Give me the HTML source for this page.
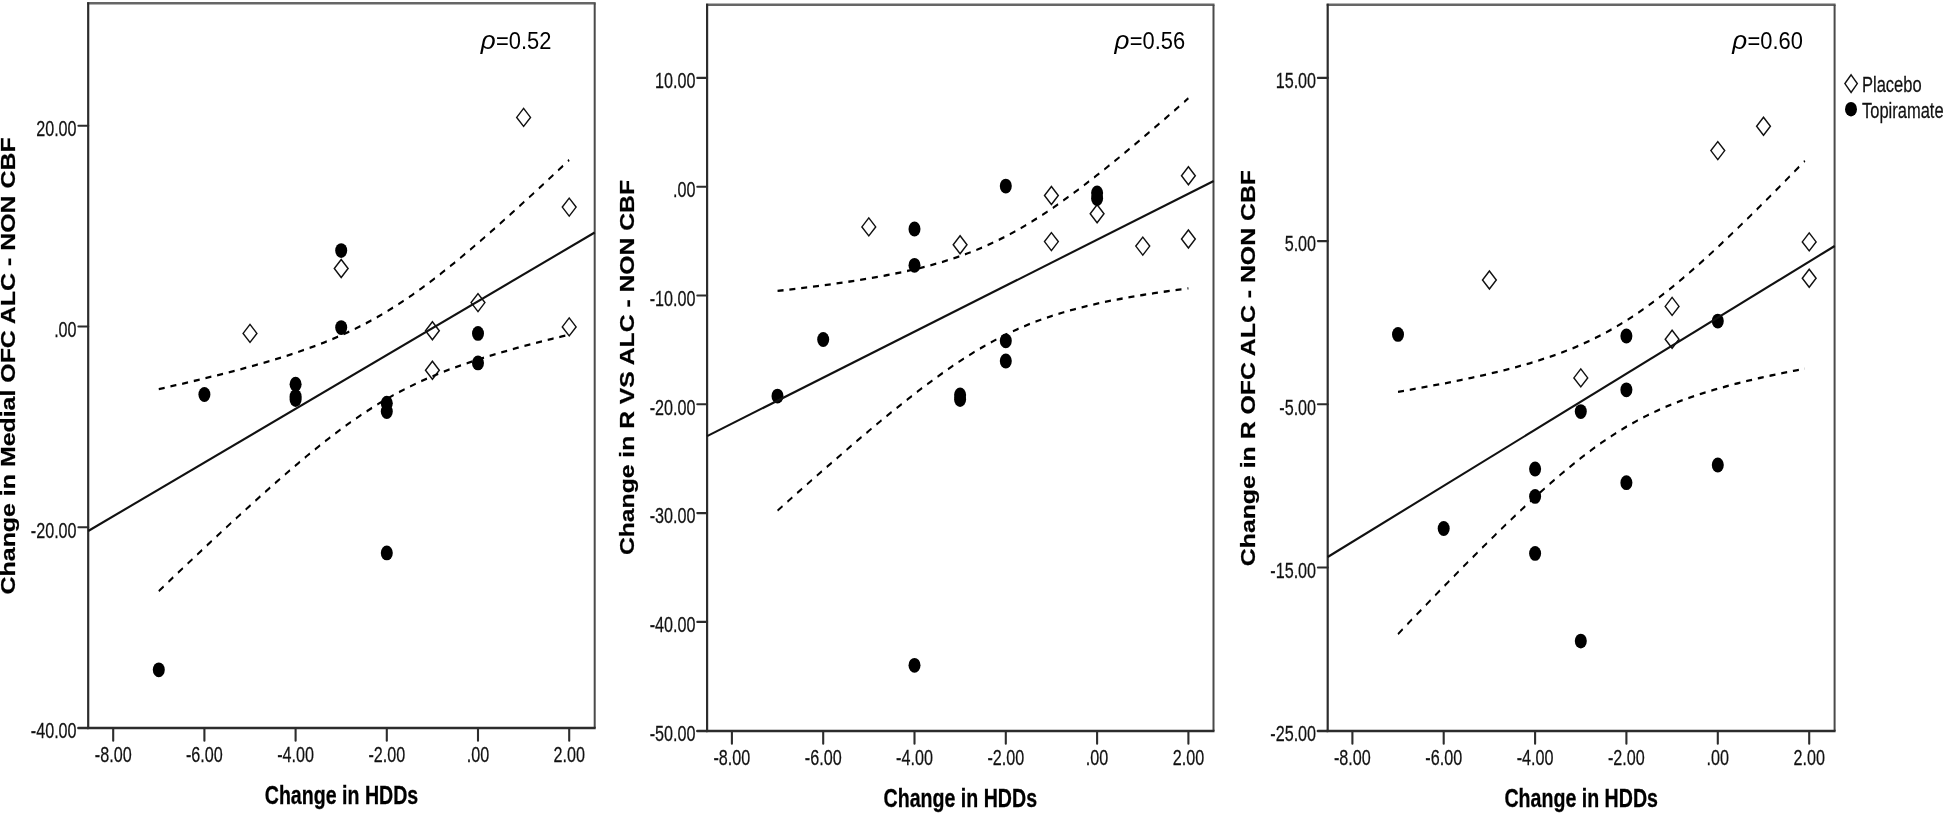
<!DOCTYPE html>
<html lang="en"><head><meta charset="utf-8"><title>Change in HDDs vs CBF</title>
<style>
html,body{margin:0;padding:0;background:#fff;}
body{width:1945px;height:813px;overflow:hidden;}
svg{display:block;filter:blur(0.45px);}
text{font-family:"Liberation Sans", Arial, sans-serif;fill:#111;}
.tk{font-size:22px;stroke:#111;stroke-width:0.25px;}
.xt{font-size:26.5px;font-weight:bold;fill:#000;stroke:#000;stroke-width:0.3px;}
.yt{font-size:27px;font-weight:bold;fill:#000;stroke:#000;stroke-width:0.3px;}
.rho{font-size:23.5px;fill:#000;}
.rhoi{font-size:26px;font-style:italic;fill:#000;}
.ax{stroke:#2c2c2c;stroke-width:2.2;fill:none;}
.tkl{stroke:#2c2c2c;stroke-width:2.1;fill:none;stroke-linecap:round;}
.frt{stroke:#666;stroke-width:2.4;fill:none;}
.frr{stroke:#4a4a4a;stroke-width:2;fill:none;}
.reg{stroke:#111;stroke-width:2.1;fill:none;}
.ci{stroke:#000;stroke-width:2.3;fill:none;stroke-dasharray:7.9 7.7;}
.d{fill:none;stroke:#111;stroke-width:1.45;}
.c{fill:#000;}
</style></head><body>
<svg width="1945" height="813" viewBox="0 0 1945 813">
<rect width="1945" height="813" fill="#fff"/>
<path class="frt" d="M87.2,3.2H595.7"/>
<path class="frr" d="M594.7,3.2V728.0"/>
<path class="ax" d="M88.2,2.2V728.0"/>
<path class="ax" style="stroke-width:2.5" d="M87.1,728.0H595.7"/>
<path class="tkl" d="M78.4,125.8H88.2"/>
<text class="tk" text-anchor="end" transform="translate(76.6,136.1) scale(0.735,1)">20.00</text>
<path class="tkl" d="M78.4,326.5H88.2"/>
<text class="tk" text-anchor="end" transform="translate(76.6,336.8) scale(0.735,1)">.00</text>
<path class="tkl" d="M78.4,527.3H88.2"/>
<text class="tk" text-anchor="end" transform="translate(76.6,537.6) scale(0.735,1)">-20.00</text>
<path class="tkl" style="stroke-width:2.5" d="M78.4,728.0H88.2"/>
<text class="tk" text-anchor="end" transform="translate(76.6,738.3) scale(0.735,1)">-40.00</text>
<path class="tkl" d="M113.2,728.0V740.8"/>
<text class="tk" text-anchor="middle" transform="translate(113.2,762.4) scale(0.735,1)">-8.00</text>
<path class="tkl" d="M204.4,728.0V740.8"/>
<text class="tk" text-anchor="middle" transform="translate(204.4,762.4) scale(0.735,1)">-6.00</text>
<path class="tkl" d="M295.6,728.0V740.8"/>
<text class="tk" text-anchor="middle" transform="translate(295.6,762.4) scale(0.735,1)">-4.00</text>
<path class="tkl" d="M386.8,728.0V740.8"/>
<text class="tk" text-anchor="middle" transform="translate(386.8,762.4) scale(0.735,1)">-2.00</text>
<path class="tkl" d="M478.0,728.0V740.8"/>
<text class="tk" text-anchor="middle" transform="translate(478.0,762.4) scale(0.735,1)">.00</text>
<path class="tkl" d="M569.2,728.0V740.8"/>
<text class="tk" text-anchor="middle" transform="translate(569.2,762.4) scale(0.735,1)">2.00</text>
<path class="d" d="M523.6,108.4L530.5,117.4L523.6,126.4L516.7,117.4Z"/>
<path class="d" d="M569.2,198.1L576.1,207.1L569.2,216.1L562.3,207.1Z"/>
<path class="d" d="M341.2,259.5L348.1,268.5L341.2,277.5L334.3,268.5Z"/>
<path class="d" d="M478.0,293.6L484.9,302.6L478.0,311.6L471.1,302.6Z"/>
<path class="d" d="M250.0,324.4L256.9,333.4L250.0,342.4L243.1,333.4Z"/>
<path class="d" d="M432.4,321.8L439.3,330.8L432.4,339.8L425.5,330.8Z"/>
<path class="d" d="M569.2,317.9L576.1,326.9L569.2,335.9L562.3,326.9Z"/>
<path class="d" d="M432.4,361.3L439.3,370.3L432.4,379.3L425.5,370.3Z"/>
<ellipse class="c" cx="341.2" cy="250.6" rx="6.0" ry="7.4"/>
<ellipse class="c" cx="341.2" cy="327.6" rx="6.0" ry="7.4"/>
<ellipse class="c" cx="478.0" cy="333.4" rx="6.0" ry="7.4"/>
<ellipse class="c" cx="478.0" cy="362.9" rx="6.0" ry="7.4"/>
<ellipse class="c" cx="204.4" cy="394.5" rx="6.0" ry="7.4"/>
<ellipse class="c" cx="295.6" cy="384.2" rx="6.0" ry="7.4"/>
<ellipse class="c" cx="295.6" cy="396.6" rx="6.0" ry="7.4"/>
<ellipse class="c" cx="295.6" cy="399.6" rx="6.0" ry="7.4"/>
<ellipse class="c" cx="386.8" cy="403.2" rx="6.0" ry="7.4"/>
<ellipse class="c" cx="386.8" cy="411.6" rx="6.0" ry="7.4"/>
<ellipse class="c" cx="386.8" cy="552.9" rx="6.0" ry="7.4"/>
<ellipse class="c" cx="158.8" cy="669.8" rx="6.0" ry="7.4"/>
<path class="reg" d="M88.2,531.0L594.7,232.5"/>
<g transform="scale(0.76,1)">
<path class="ci" d="M208.9,389.1C211.4,388.7 218.9,387.4 223.9,386.5C228.9,385.6 233.9,384.8 238.9,383.9C243.9,383.0 248.9,382.1 253.9,381.2C258.9,380.3 263.9,379.4 268.9,378.4C273.9,377.5 278.9,376.6 283.9,375.6C288.9,374.7 293.9,373.7 298.9,372.7C303.9,371.8 308.9,370.8 313.9,369.8C318.9,368.7 323.9,367.7 328.9,366.7C333.9,365.6 338.9,364.6 343.9,363.5C348.9,362.4 353.9,361.3 358.9,360.1C363.9,359.0 368.9,357.8 373.9,356.6C378.9,355.4 383.9,354.2 388.9,352.9C393.9,351.6 398.9,350.3 403.9,348.9C408.9,347.6 413.9,346.2 418.9,344.7C423.9,343.3 428.9,341.8 433.9,340.2C438.9,338.6 443.9,337.0 448.9,335.3C453.9,333.6 458.9,331.9 463.9,330.1C468.9,328.2 473.9,326.3 478.9,324.4C483.9,322.4 488.9,320.3 493.9,318.2C498.9,316.0 503.9,313.8 508.9,311.5C513.9,309.2 518.9,306.8 523.9,304.4C528.9,301.9 533.9,299.4 538.9,296.8C543.9,294.1 548.9,291.4 553.9,288.7C558.9,285.9 563.9,283.1 568.9,280.2C573.9,277.3 578.9,274.4 583.9,271.3C588.9,268.3 593.9,265.3 598.9,262.2C603.9,259.1 608.9,255.9 613.9,252.7C618.9,249.5 623.9,246.3 628.9,243.0C633.9,239.8 638.9,236.4 643.9,233.1C648.9,229.8 653.9,226.4 658.9,223.0C663.9,219.6 668.9,216.2 673.9,212.8C678.9,209.4 683.9,205.9 688.9,202.4C693.9,199.0 698.9,195.5 703.9,192.0C708.9,188.5 713.9,184.9 718.9,181.4C723.9,177.9 728.9,174.3 733.9,170.7C738.9,167.2 746.4,161.8 748.9,160.0"/>
<path class="ci" d="M208.9,591.1C211.4,589.3 218.9,583.9 223.9,580.2C228.9,576.6 233.9,573.0 238.9,569.4C243.9,565.8 248.9,562.2 253.9,558.6C258.9,555.0 263.9,551.4 268.9,547.8C273.9,544.3 278.9,540.7 283.9,537.2C288.9,533.6 293.9,530.1 298.9,526.6C303.9,523.0 308.9,519.5 313.9,516.1C318.9,512.6 323.9,509.1 328.9,505.7C333.9,502.2 338.9,498.8 343.9,495.4C348.9,492.0 353.9,488.6 358.9,485.2C363.9,481.9 368.9,478.6 373.9,475.3C378.9,472.0 383.9,468.7 388.9,465.5C393.9,462.3 398.9,459.1 403.9,455.9C408.9,452.8 413.9,449.7 418.9,446.7C423.9,443.6 428.9,440.6 433.9,437.7C438.9,434.8 443.9,431.9 448.9,429.1C453.9,426.3 458.9,423.5 463.9,420.9C468.9,418.2 473.9,415.6 478.9,413.1C483.9,410.6 488.9,408.1 493.9,405.8C498.9,403.4 503.9,401.1 508.9,399.0C513.9,396.8 518.9,394.6 523.9,392.6C528.9,390.6 533.9,388.6 538.9,386.8C543.9,384.9 548.9,383.1 553.9,381.3C558.9,379.6 563.9,377.9 568.9,376.3C573.9,374.7 578.9,373.2 583.9,371.7C588.9,370.2 593.9,368.8 598.9,367.4C603.9,366.0 608.9,364.7 613.9,363.3C618.9,362.0 623.9,360.8 628.9,359.6C633.9,358.3 638.9,357.1 643.9,356.0C648.9,354.8 653.9,353.7 658.9,352.6C663.9,351.5 668.9,350.4 673.9,349.3C678.9,348.3 683.9,347.2 688.9,346.2C693.9,345.2 698.9,344.2 703.9,343.2C708.9,342.2 713.9,341.2 718.9,340.3C723.9,339.3 728.9,338.4 733.9,337.4C738.9,336.5 746.4,335.1 748.9,334.7"/>
</g>
<text class="rhoi" x="480.7" y="49.1">ρ</text>
<text class="rho" transform="translate(496.0,49.1) scale(0.932,1)">=0.52</text>
<text class="xt" text-anchor="middle" transform="translate(341.5,803.8) scale(0.74,1)">Change in HDDs</text>
<text class="yt" transform="translate(15.3,594.4) rotate(-90) scale(1,0.76)" textLength="457.0" lengthAdjust="spacingAndGlyphs">Change in Medial OFC ALC - NON CBF</text>
<path class="frt" d="M706.1,4.8H1214.5"/>
<path class="frr" d="M1213.5,4.8V731.0"/>
<path class="ax" d="M707.1,3.8V731.0"/>
<path class="ax" style="stroke-width:2.5" d="M706.0,731.0H1214.5"/>
<path class="tkl" d="M697.3,77.9H707.1"/>
<text class="tk" text-anchor="end" transform="translate(695.5,88.2) scale(0.735,1)">10.00</text>
<path class="tkl" d="M697.3,186.7H707.1"/>
<text class="tk" text-anchor="end" transform="translate(695.5,197.0) scale(0.735,1)">.00</text>
<path class="tkl" d="M697.3,295.5H707.1"/>
<text class="tk" text-anchor="end" transform="translate(695.5,305.8) scale(0.735,1)">-10.00</text>
<path class="tkl" d="M697.3,404.3H707.1"/>
<text class="tk" text-anchor="end" transform="translate(695.5,414.6) scale(0.735,1)">-20.00</text>
<path class="tkl" d="M697.3,513.1H707.1"/>
<text class="tk" text-anchor="end" transform="translate(695.5,523.4) scale(0.735,1)">-30.00</text>
<path class="tkl" d="M697.3,621.9H707.1"/>
<text class="tk" text-anchor="end" transform="translate(695.5,632.2) scale(0.735,1)">-40.00</text>
<path class="tkl" style="stroke-width:2.5" d="M697.3,731.0H707.1"/>
<text class="tk" text-anchor="end" transform="translate(695.5,741.3) scale(0.735,1)">-50.00</text>
<path class="tkl" d="M731.9,731.0V743.8"/>
<text class="tk" text-anchor="middle" transform="translate(731.9,765.4) scale(0.735,1)">-8.00</text>
<path class="tkl" d="M823.2,731.0V743.8"/>
<text class="tk" text-anchor="middle" transform="translate(823.2,765.4) scale(0.735,1)">-6.00</text>
<path class="tkl" d="M914.5,731.0V743.8"/>
<text class="tk" text-anchor="middle" transform="translate(914.5,765.4) scale(0.735,1)">-4.00</text>
<path class="tkl" d="M1005.8,731.0V743.8"/>
<text class="tk" text-anchor="middle" transform="translate(1005.8,765.4) scale(0.735,1)">-2.00</text>
<path class="tkl" d="M1097.1,731.0V743.8"/>
<text class="tk" text-anchor="middle" transform="translate(1097.1,765.4) scale(0.735,1)">.00</text>
<path class="tkl" d="M1188.4,731.0V743.8"/>
<text class="tk" text-anchor="middle" transform="translate(1188.4,765.4) scale(0.735,1)">2.00</text>
<path class="d" d="M1188.4,166.8L1195.3,175.8L1188.4,184.8L1181.5,175.8Z"/>
<path class="d" d="M1051.4,186.5L1058.3,195.5L1051.4,204.5L1044.5,195.5Z"/>
<path class="d" d="M1097.1,204.7L1104.0,213.7L1097.1,222.7L1090.2,213.7Z"/>
<path class="d" d="M868.8,217.9L875.7,226.9L868.8,235.9L861.9,226.9Z"/>
<path class="d" d="M960.1,235.8L967.0,244.8L960.1,253.8L953.2,244.8Z"/>
<path class="d" d="M1051.4,232.6L1058.3,241.6L1051.4,250.6L1044.5,241.6Z"/>
<path class="d" d="M1142.8,237.1L1149.7,246.1L1142.8,255.1L1135.8,246.1Z"/>
<path class="d" d="M1188.4,230.0L1195.3,239.0L1188.4,248.0L1181.5,239.0Z"/>
<ellipse class="c" cx="1005.8" cy="186.1" rx="6.0" ry="7.4"/>
<ellipse class="c" cx="1097.1" cy="193.0" rx="6.0" ry="7.4"/>
<ellipse class="c" cx="1097.1" cy="198.5" rx="6.0" ry="7.4"/>
<ellipse class="c" cx="914.5" cy="229.0" rx="6.0" ry="7.4"/>
<ellipse class="c" cx="914.5" cy="265.3" rx="6.0" ry="7.4"/>
<ellipse class="c" cx="823.2" cy="339.5" rx="6.0" ry="7.4"/>
<ellipse class="c" cx="1005.8" cy="340.8" rx="6.0" ry="7.4"/>
<ellipse class="c" cx="1005.8" cy="361.0" rx="6.0" ry="7.4"/>
<ellipse class="c" cx="777.5" cy="396.1" rx="6.0" ry="7.4"/>
<ellipse class="c" cx="960.1" cy="395.0" rx="6.0" ry="7.4"/>
<ellipse class="c" cx="960.1" cy="399.6" rx="6.0" ry="7.4"/>
<ellipse class="c" cx="914.5" cy="665.3" rx="6.0" ry="7.4"/>
<path class="reg" d="M707.1,436.1L1213.7,181.0"/>
<g transform="scale(0.76,1)">
<path class="ci" d="M1023.1,290.9C1025.6,290.7 1033.1,290.1 1038.1,289.6C1043.1,289.2 1048.1,288.7 1053.1,288.2C1058.1,287.8 1063.1,287.3 1068.1,286.8C1073.1,286.3 1078.2,285.8 1083.2,285.3C1088.2,284.8 1093.2,284.3 1098.2,283.7C1103.2,283.2 1108.2,282.6 1113.2,282.1C1118.2,281.5 1123.2,280.9 1128.2,280.3C1133.2,279.7 1138.2,279.1 1143.2,278.4C1148.2,277.8 1153.2,277.1 1158.2,276.4C1163.2,275.7 1168.3,275.0 1173.3,274.2C1178.3,273.5 1183.3,272.7 1188.3,271.9C1193.3,271.0 1198.3,270.2 1203.3,269.3C1208.3,268.4 1213.3,267.5 1218.3,266.5C1223.3,265.5 1228.3,264.5 1233.3,263.4C1238.3,262.3 1243.3,261.1 1248.3,259.9C1253.3,258.7 1258.3,257.5 1263.4,256.1C1268.4,254.8 1273.4,253.4 1278.4,251.9C1283.4,250.4 1288.4,248.8 1293.4,247.2C1298.4,245.6 1303.4,243.8 1308.4,242.0C1313.4,240.2 1318.4,238.4 1323.4,236.4C1328.4,234.4 1333.4,232.3 1338.4,230.2C1343.4,228.1 1348.4,225.8 1353.5,223.5C1358.5,221.2 1363.5,218.9 1368.5,216.4C1373.5,214.0 1378.5,211.4 1383.5,208.9C1388.5,206.3 1393.5,203.6 1398.5,200.9C1403.5,198.2 1408.5,195.4 1413.5,192.6C1418.5,189.8 1423.5,186.9 1428.5,184.0C1433.5,181.1 1438.5,178.1 1443.6,175.1C1448.6,172.2 1453.6,169.1 1458.6,166.1C1463.6,163.0 1468.6,159.9 1473.6,156.8C1478.6,153.7 1483.6,150.5 1488.6,147.3C1493.6,144.2 1498.6,141.0 1503.6,137.7C1508.6,134.5 1513.6,131.3 1518.6,128.0C1523.6,124.8 1528.6,121.5 1533.7,118.2C1538.7,114.9 1543.7,111.6 1548.7,108.3C1553.7,105.0 1561.2,99.9 1563.7,98.3"/>
<path class="ci" d="M1023.1,510.6C1025.6,508.9 1033.1,503.8 1038.1,500.4C1043.1,497.0 1048.1,493.6 1053.1,490.2C1058.1,486.9 1063.1,483.5 1068.1,480.1C1073.1,476.8 1078.2,473.4 1083.2,470.1C1088.2,466.8 1093.2,463.5 1098.2,460.2C1103.2,456.9 1108.2,453.6 1113.2,450.3C1118.2,447.0 1123.2,443.8 1128.2,440.5C1133.2,437.3 1138.2,434.1 1143.2,430.9C1148.2,427.7 1153.2,424.5 1158.2,421.4C1163.2,418.3 1168.3,415.1 1173.3,412.0C1178.3,409.0 1183.3,405.9 1188.3,402.9C1193.3,399.9 1198.3,396.9 1203.3,393.9C1208.3,391.0 1213.3,388.1 1218.3,385.2C1223.3,382.4 1228.3,379.6 1233.3,376.8C1238.3,374.1 1243.3,371.4 1248.3,368.7C1253.3,366.1 1258.3,363.5 1263.4,361.0C1268.4,358.5 1273.4,356.1 1278.4,353.7C1283.4,351.3 1288.4,349.1 1293.4,346.9C1298.4,344.7 1303.4,342.5 1308.4,340.5C1313.4,338.5 1318.4,336.5 1323.4,334.6C1328.4,332.8 1333.4,331.0 1338.4,329.3C1343.4,327.6 1348.4,326.0 1353.5,324.4C1358.5,322.9 1363.5,321.4 1368.5,320.0C1373.5,318.6 1378.5,317.3 1383.5,316.1C1388.5,314.8 1393.5,313.6 1398.5,312.5C1403.5,311.4 1408.5,310.3 1413.5,309.3C1418.5,308.2 1423.5,307.3 1428.5,306.3C1433.5,305.4 1438.5,304.5 1443.6,303.7C1448.6,302.8 1453.6,302.0 1458.6,301.2C1463.6,300.4 1468.6,299.7 1473.6,299.0C1478.6,298.3 1483.6,297.6 1488.6,296.9C1493.6,296.2 1498.6,295.6 1503.6,295.0C1508.6,294.4 1513.6,293.8 1518.6,293.2C1523.6,292.6 1528.6,292.0 1533.7,291.5C1538.7,290.9 1543.7,290.4 1548.7,289.9C1553.7,289.3 1561.2,288.6 1563.7,288.3"/>
</g>
<text class="rhoi" x="1114.4" y="49.1">ρ</text>
<text class="rho" transform="translate(1129.7,49.1) scale(0.932,1)">=0.56</text>
<text class="xt" text-anchor="middle" transform="translate(960.3,806.6) scale(0.74,1)">Change in HDDs</text>
<text class="yt" transform="translate(634.4,555.1) rotate(-90) scale(1,0.76)" textLength="375.1" lengthAdjust="spacingAndGlyphs">Change in R VS ALC - NON CBF</text>
<path class="frt" d="M1326.7,4.8H1835.6"/>
<path class="frr" d="M1834.6,4.8V731.0"/>
<path class="ax" d="M1327.7,3.8V731.0"/>
<path class="ax" style="stroke-width:2.5" d="M1326.6,731.0H1835.6"/>
<path class="tkl" d="M1317.9,77.9H1327.7"/>
<text class="tk" text-anchor="end" transform="translate(1316.1,88.2) scale(0.735,1)">15.00</text>
<path class="tkl" d="M1317.9,241.1H1327.7"/>
<text class="tk" text-anchor="end" transform="translate(1316.1,251.4) scale(0.735,1)">5.00</text>
<path class="tkl" d="M1317.9,404.3H1327.7"/>
<text class="tk" text-anchor="end" transform="translate(1316.1,414.6) scale(0.735,1)">-5.00</text>
<path class="tkl" d="M1317.9,567.5H1327.7"/>
<text class="tk" text-anchor="end" transform="translate(1316.1,577.8) scale(0.735,1)">-15.00</text>
<path class="tkl" style="stroke-width:2.5" d="M1317.9,731.0H1327.7"/>
<text class="tk" text-anchor="end" transform="translate(1316.1,741.3) scale(0.735,1)">-25.00</text>
<path class="tkl" d="M1352.4,731.0V743.8"/>
<text class="tk" text-anchor="middle" transform="translate(1352.4,765.4) scale(0.735,1)">-8.00</text>
<path class="tkl" d="M1443.7,731.0V743.8"/>
<text class="tk" text-anchor="middle" transform="translate(1443.7,765.4) scale(0.735,1)">-6.00</text>
<path class="tkl" d="M1535.1,731.0V743.8"/>
<text class="tk" text-anchor="middle" transform="translate(1535.1,765.4) scale(0.735,1)">-4.00</text>
<path class="tkl" d="M1626.4,731.0V743.8"/>
<text class="tk" text-anchor="middle" transform="translate(1626.4,765.4) scale(0.735,1)">-2.00</text>
<path class="tkl" d="M1717.8,731.0V743.8"/>
<text class="tk" text-anchor="middle" transform="translate(1717.8,765.4) scale(0.735,1)">.00</text>
<path class="tkl" d="M1809.2,731.0V743.8"/>
<text class="tk" text-anchor="middle" transform="translate(1809.2,765.4) scale(0.735,1)">2.00</text>
<path class="d" d="M1763.5,117.3L1770.4,126.3L1763.5,135.3L1756.6,126.3Z"/>
<path class="d" d="M1717.8,141.6L1724.7,150.6L1717.8,159.6L1710.9,150.6Z"/>
<path class="d" d="M1809.2,232.9L1816.1,241.9L1809.2,250.9L1802.3,241.9Z"/>
<path class="d" d="M1809.2,269.2L1816.1,278.2L1809.2,287.2L1802.3,278.2Z"/>
<path class="d" d="M1489.4,271.0L1496.3,280.0L1489.4,289.0L1482.5,280.0Z"/>
<path class="d" d="M1672.1,297.4L1679.0,306.4L1672.1,315.4L1665.2,306.4Z"/>
<path class="d" d="M1672.1,330.3L1679.0,339.3L1672.1,348.3L1665.2,339.3Z"/>
<path class="d" d="M1580.8,368.9L1587.7,377.9L1580.8,386.9L1573.9,377.9Z"/>
<ellipse class="c" cx="1398.0" cy="334.4" rx="6.0" ry="7.4"/>
<ellipse class="c" cx="1626.4" cy="336.0" rx="6.0" ry="7.4"/>
<ellipse class="c" cx="1717.8" cy="321.1" rx="6.0" ry="7.4"/>
<ellipse class="c" cx="1626.4" cy="389.8" rx="6.0" ry="7.4"/>
<ellipse class="c" cx="1580.8" cy="411.6" rx="6.0" ry="7.4"/>
<ellipse class="c" cx="1535.1" cy="469.0" rx="6.0" ry="7.4"/>
<ellipse class="c" cx="1535.1" cy="496.4" rx="6.0" ry="7.4"/>
<ellipse class="c" cx="1626.4" cy="482.7" rx="6.0" ry="7.4"/>
<ellipse class="c" cx="1717.8" cy="465.0" rx="6.0" ry="7.4"/>
<ellipse class="c" cx="1443.7" cy="528.5" rx="6.0" ry="7.4"/>
<ellipse class="c" cx="1535.1" cy="553.4" rx="6.0" ry="7.4"/>
<ellipse class="c" cx="1580.8" cy="641.1" rx="6.0" ry="7.4"/>
<path class="reg" d="M1327.7,557.0L1834.7,246.0"/>
<g transform="scale(0.76,1)">
<path class="ci" d="M1839.5,391.8C1842.0,391.5 1849.4,390.5 1854.4,389.9C1859.3,389.2 1864.3,388.5 1869.3,387.8C1874.2,387.1 1879.2,386.5 1884.1,385.7C1889.1,385.0 1894.0,384.3 1899.0,383.6C1904.0,382.9 1908.9,382.1 1913.9,381.3C1918.8,380.6 1923.8,379.8 1928.7,379.0C1933.7,378.2 1938.6,377.4 1943.6,376.6C1948.6,375.7 1953.5,374.9 1958.5,374.0C1963.4,373.1 1968.4,372.2 1973.3,371.3C1978.3,370.4 1983.2,369.4 1988.2,368.4C1993.2,367.4 1998.1,366.4 2003.1,365.3C2008.0,364.3 2013.0,363.2 2017.9,362.0C2022.9,360.9 2027.9,359.7 2032.8,358.4C2037.8,357.2 2042.7,355.9 2047.7,354.6C2052.6,353.2 2057.6,351.8 2062.5,350.3C2067.5,348.8 2072.5,347.3 2077.4,345.6C2082.4,344.0 2087.3,342.3 2092.3,340.5C2097.2,338.7 2102.2,336.9 2107.1,334.9C2112.1,332.9 2117.1,330.9 2122.0,328.7C2127.0,326.6 2131.9,324.3 2136.9,322.0C2141.8,319.6 2146.8,317.2 2151.7,314.7C2156.7,312.1 2161.7,309.5 2166.6,306.8C2171.6,304.1 2176.5,301.3 2181.5,298.4C2186.4,295.5 2191.4,292.6 2196.4,289.5C2201.3,286.5 2206.3,283.4 2211.2,280.2C2216.2,277.1 2221.1,273.8 2226.1,270.5C2231.0,267.2 2236.0,263.9 2241.0,260.5C2245.9,257.1 2250.9,253.6 2255.8,250.2C2260.8,246.7 2265.7,243.1 2270.7,239.6C2275.6,236.0 2280.6,232.4 2285.6,228.8C2290.5,225.1 2295.5,221.5 2300.4,217.8C2305.4,214.1 2310.3,210.4 2315.3,206.6C2320.2,202.9 2325.2,199.1 2330.2,195.4C2335.1,191.6 2340.1,187.8 2345.0,184.0C2350.0,180.1 2354.9,176.3 2359.9,172.5C2364.9,168.6 2372.3,162.8 2374.8,160.9"/>
<path class="ci" d="M1839.5,634.1C1842.0,632.1 1849.4,626.2 1854.4,622.2C1859.3,618.3 1864.3,614.4 1869.3,610.5C1874.2,606.6 1879.2,602.7 1884.1,598.8C1889.1,594.9 1894.0,591.0 1899.0,587.1C1904.0,583.3 1908.9,579.4 1913.9,575.6C1918.8,571.8 1923.8,567.9 1928.7,564.1C1933.7,560.3 1938.6,556.6 1943.6,552.8C1948.6,549.0 1953.5,545.3 1958.5,541.6C1963.4,537.9 1968.4,534.2 1973.3,530.5C1978.3,526.8 1983.2,523.2 1988.2,519.6C1993.2,516.0 1998.1,512.4 2003.1,508.9C2008.0,505.3 2013.0,501.8 2017.9,498.4C2022.9,495.0 2027.9,491.5 2032.8,488.2C2037.8,484.8 2042.7,481.5 2047.7,478.3C2052.6,475.1 2057.6,471.9 2062.5,468.8C2067.5,465.7 2072.5,462.6 2077.4,459.6C2082.4,456.7 2087.3,453.8 2092.3,451.0C2097.2,448.2 2102.2,445.4 2107.1,442.8C2112.1,440.2 2117.1,437.6 2122.0,435.2C2127.0,432.8 2131.9,430.4 2136.9,428.1C2141.8,425.9 2146.8,423.7 2151.7,421.7C2156.7,419.6 2161.7,417.6 2166.6,415.7C2171.6,413.8 2176.5,412.1 2181.5,410.3C2186.4,408.6 2191.4,407.0 2196.4,405.4C2201.3,403.9 2206.3,402.4 2211.2,400.9C2216.2,399.5 2221.1,398.2 2226.1,396.9C2231.0,395.6 2236.0,394.3 2241.0,393.1C2245.9,391.9 2250.9,390.8 2255.8,389.7C2260.8,388.6 2265.7,387.5 2270.7,386.5C2275.6,385.4 2280.6,384.4 2285.6,383.5C2290.5,382.5 2295.5,381.6 2300.4,380.7C2305.4,379.8 2310.3,378.9 2315.3,378.0C2320.2,377.2 2325.2,376.3 2330.2,375.5C2335.1,374.7 2340.1,373.9 2345.0,373.1C2350.0,372.4 2354.9,371.6 2359.9,370.8C2364.9,370.1 2372.3,369.0 2374.8,368.6"/>
</g>
<text class="rhoi" x="1732.2" y="49.1">ρ</text>
<text class="rho" transform="translate(1747.5,49.1) scale(0.932,1)">=0.60</text>
<text class="xt" text-anchor="middle" transform="translate(1581.2,806.6) scale(0.74,1)">Change in HDDs</text>
<text class="yt" transform="translate(1255.0,566.2) rotate(-90) scale(1,0.76)" textLength="396.2" lengthAdjust="spacingAndGlyphs">Change in R OFC ALC - NON CBF</text>
<path class="d" d="M1851.1,74.8L1857.3,83.6L1851.1,92.4L1844.9,83.6Z"/>
<ellipse class="c" cx="1851.0" cy="109.2" rx="6.0" ry="7.2"/>
<text class="tk" transform="translate(1862.0,91.9) scale(0.75,1)">Placebo</text>
<text class="tk" transform="translate(1862.0,118.0) scale(0.75,1)">Topiramate</text>
</svg></body></html>
